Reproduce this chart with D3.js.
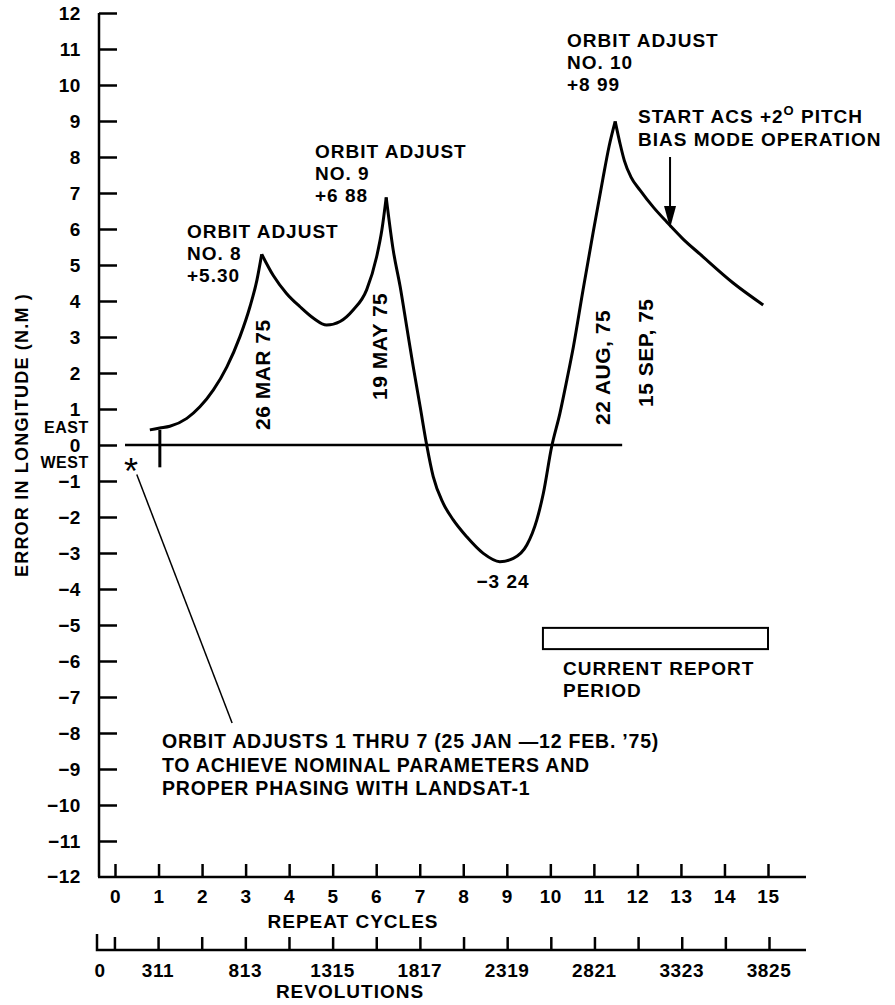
<!DOCTYPE html>
<html>
<head>
    <meta charset="UTF-8">
    <style>
        body { margin: 0; background: #fff; }
        svg { font-family: "Liberation Sans", Arial, sans-serif; font-weight: bold; }
        .axis text { font-size: 19px; letter-spacing: 0.6px; font-family: "Liberation Sans", Arial, sans-serif; font-weight: bold; fill: #000; }
        .axis line { stroke: #000; stroke-width: 2.5px; }
        .tl { font-size: 19px; letter-spacing: 0.6px; fill: #000; }
        .note { font-size: 19px; letter-spacing: 1px; fill: #000; }
        .date { font-size: 21px; letter-spacing: 0.5px; fill: #000; }
    </style>
</head>
<body>
    <script src="https://cdn.jsdelivr.net/npm/d3@7"></script>
    <script>
        // error in longitude (n.mi) against repeat cycles
        var curveCycles = [0.80, 1.03, 1.26, 1.65, 1.95, 2.26, 2.57, 2.87, 3.10, 3.26, 3.37,
            3.64, 3.94, 4.25, 4.56, 4.86, 5.17, 5.47, 5.78, 6.01, 6.13, 6.23,
            6.39, 6.55, 6.70, 6.85, 7.01, 7.16, 7.31, 7.54, 7.77, 8.08, 8.46, 8.84, 9.15, 9.46, 9.69, 9.84,
            10.03, 10.22, 10.38, 10.53, 10.75, 10.99, 11.20, 11.35, 11.49,
            11.60, 11.70, 11.85, 12.06, 12.37, 12.67, 13.05, 13.44, 14.20, 14.89];
        var curveError = [0.42, 0.47, 0.52, 0.74, 1.06, 1.53, 2.17, 3.01, 3.84, 4.58, 5.30,
            4.70, 4.21, 3.84, 3.52, 3.33, 3.43, 3.75, 4.31, 5.23, 5.97, 6.88,
            5.42, 4.40, 3.29, 2.18, 1.06, 0.00, -0.88, -1.62, -2.08, -2.55, -3.01, -3.24, -3.15, -2.78, -2.08, -1.34,
            -0.05, 0.88, 1.81, 2.73, 4.30, 5.95, 7.35, 8.30, 8.99,
            8.38, 7.90, 7.45, 7.08, 6.60, 6.20, 5.72, 5.30, 4.50, 3.89];

        var adjustCycles = [3.37, 6.23, 11.49];
        var adjustError = [5.30, 6.88, 8.99];
        var adjustNames = ["NO. 8", "NO. 9", "NO. 10"];
        var adjustLabels = ["+5.30", "+6 88", "+8 99"];

        var errorTicks = [-12, -11, -10, -9, -8, -7, -6, -5, -4, -3, -2, -1, 0, 1, 2, 3, 4, 5, 6, 7, 8, 9, 10, 11, 12];
        var cycleTicks = [0, 1, 2, 3, 4, 5, 6, 7, 8, 9, 10, 11, 12, 13, 14, 15];
        var revTicks = [60, 311, 562, 813, 1064, 1315, 1566, 1817, 2068, 2319, 2570, 2821, 3072, 3323, 3574, 3825];
        var revLabels = [0, 311, 813, 1315, 1817, 2319, 2821, 3323, 3825];

        var dateLabels = ["26 MAR 75", "19 MAY 75", "22 AUG, 75", "15 SEP, 75"];

        var w = 895, h = 1005;
        var xScale = d3.scaleLinear().domain([0, 15]).range([115, 768]);
        var yScale = d3.scaleLinear().domain([-12, 12]).range([877, 13]);
        var revScale = d3.scaleLinear().domain([0, 3825]).range([104, 769]);

        var svg = d3.select("body").append("svg")
            .attr("width", w).attr("height", h);
        svg.append("rect").attr("width", w).attr("height", h).attr("fill", "#fff");

        var axisX0 = 99, axisX1 = 806;
        var cycY = yScale(-12), revY = 950;

        // y axis
        svg.append("g").attr("class", "axis")
            .attr("transform", `translate(${axisX0},0)`)
            .call(d3.axisLeft(yScale).tickValues(errorTicks.filter(d => d > -12))
                .tickSizeInner(-18).tickSizeOuter(0).tickPadding(18))
            .call(g => g.select(".domain").remove());
        svg.append("text").attr("class", "tl").attr("x", 81).attr("y", yScale(-12)).attr("dy", "0.32em")
            .attr("text-anchor", "end").text("\u221212");
        svg.append("line").attr("x1", axisX0).attr("x2", axisX0)
            .attr("y1", yScale(12)).attr("y2", cycY)
            .attr("stroke", "#000").attr("stroke-width", 2.5);

        // repeat cycles axis
        svg.append("g").attr("class", "axis")
            .attr("transform", `translate(0,${cycY})`)
            .call(d3.axisBottom(xScale).tickValues(cycleTicks)
                .tickSizeInner(-13).tickSizeOuter(0).tickPadding(13))
            .call(g => g.select(".domain").remove())
            .call(g => g.selectAll(".tick line").attr("stroke-width", 1.8));
        svg.append("line").attr("x1", axisX0 - 1).attr("x2", axisX1)
            .attr("y1", cycY).attr("y2", cycY)
            .attr("stroke", "#000").attr("stroke-width", 2.5);

        // revolutions axis
        svg.append("g").attr("class", "axis")
            .attr("transform", `translate(0,${revY})`)
            .call(d3.axisBottom(revScale).tickValues(revTicks)
                .tickSizeInner(-13).tickSizeOuter(0).tickFormat(""))
            .call(g => g.select(".domain").remove())
            .call(g => g.selectAll(".tick line").attr("stroke-width", 1.8));
        svg.append("g").selectAll("text").data(revLabels).enter().append("text")
            .attr("class", "tl")
            .attr("x", d => d === 0 ? 100 : revScale(d))
            .attr("y", revY + 27)
            .attr("text-anchor", "middle")
            .text(d => d);
        svg.append("path")
            .attr("d", `M${axisX0 - 2},${revY - 16}V${revY}H${axisX1}`)
            .attr("fill", "none").attr("stroke", "#000").attr("stroke-width", 2.5);

        svg.append("text").attr("x", 353).attr("y", 928).attr("text-anchor", "middle")
            .attr("class", "note").text("REPEAT CYCLES");
        svg.append("text").attr("x", 350).attr("y", 998).attr("text-anchor", "middle")
            .attr("class", "note").text("REVOLUTIONS");

        // y title and east / west
        svg.append("text")
            .attr("transform", `translate(28,435) rotate(-90)`)
            .attr("text-anchor", "middle")
            .style("font-size", "18px").style("letter-spacing", "1.2px")
            .text("ERROR IN LONGITUDE (N.M )");
        svg.append("text").attr("class", "tl").attr("x", 89).attr("y", 433).attr("text-anchor", "end")
            .style("font-size", "16px").text("EAST");
        svg.append("text").attr("class", "tl").attr("x", 89).attr("y", 468).attr("text-anchor", "end")
            .style("font-size", "16px").text("WEST");

        // zero line and start marker
        svg.append("line")
            .attr("x1", xScale(0.23)).attr("x2", xScale(11.65))
            .attr("y1", yScale(0)).attr("y2", yScale(0))
            .attr("stroke", "#000").attr("stroke-width", 2.5);
        svg.append("line")
            .attr("x1", xScale(1.03)).attr("x2", xScale(1.03))
            .attr("y1", yScale(0.42)).attr("y2", yScale(-0.62))
            .attr("stroke", "#000").attr("stroke-width", 3);

        // curve, split at the orbit adjust cusps
        var pts = curveCycles.map((c, i) => [c, curveError[i]]);
        var cuts = adjustCycles.map(c => curveCycles.indexOf(c));
        var bounds = [0].concat(cuts, [pts.length - 1]);
        var line = d3.line()
            .x(d => xScale(d[0])).y(d => yScale(d[1]))
            .curve(d3.curveMonotoneX);
        for (var i = 0; i < bounds.length - 1; i++) {
            svg.append("path")
                .datum(pts.slice(bounds[i], bounds[i + 1] + 1))
                .attr("d", line)
                .attr("fill", "none").attr("stroke", "#000")
                .attr("stroke-width", 3).attr("stroke-linejoin", "miter");
        }

        // orbit adjust notes
        var notePos = [[187, 238], [315, 158], [567, 47]];
        adjustNames.forEach(function (n, i) {
            var t = svg.append("text").attr("class", "note")
                .attr("x", notePos[i][0]).attr("y", notePos[i][1]);
            ["ORBIT ADJUST", n, adjustLabels[i]].forEach(function (s, j) {
                t.append("tspan").attr("x", notePos[i][0]).attr("dy", j ? 22 : 0).text(s);
            });
        });

        // minimum
        svg.append("text").attr("class", "note").attr("x", 503).attr("y", 588)
            .attr("text-anchor", "middle").text("\u22123 24");

        // dates
        var datePos = [[270, 430], [387, 400], [610, 425], [653, 407]];
        svg.selectAll(".date").data(dateLabels).enter().append("text")
            .attr("class", "date")
            .attr("transform", (d, i) => `translate(${datePos[i][0]},${datePos[i][1]}) rotate(-90)`)
            .text(d => d);

        // pitch bias note and arrow
        var t2 = svg.append("text").attr("class", "note").attr("x", 638).attr("y", 123);
        t2.append("tspan").text("START ACS +2");
        t2.append("tspan").attr("dy", -8).style("font-size", "13px").text("O");
        t2.append("tspan").attr("dy", 8).text(" PITCH");
        svg.append("text").attr("class", "note").attr("x", 638).attr("y", 146)
            .text("BIAS MODE OPERATION");
        var ax = xScale(12.75), ay = yScale(6.03);
        svg.append("line").attr("x1", ax).attr("x2", ax)
            .attr("y1", yScale(8.0)).attr("y2", ay - 12)
            .attr("stroke", "#000").attr("stroke-width", 2);
        svg.append("path")
            .attr("d", `M${ax - 6},${ay - 22}L${ax + 6},${ay - 22}L${ax},${ay}Z`)
            .attr("fill", "#000");

        // current report period
        svg.append("rect")
            .attr("x", xScale(9.83)).attr("y", yScale(-5.08))
            .attr("width", xScale(15) - xScale(9.83))
            .attr("height", yScale(-5.67) - yScale(-5.08))
            .attr("fill", "none").attr("stroke", "#000").attr("stroke-width", 2);
        var t3 = svg.append("text").attr("class", "note").attr("x", 563).attr("y", 675);
        t3.append("tspan").attr("x", 563).text("CURRENT REPORT");
        t3.append("tspan").attr("x", 563).attr("dy", 22).text("PERIOD");

        // early adjusts
        svg.append("text").attr("x", 131).attr("y", 484)
            .attr("text-anchor", "middle").style("font-size", "36px").style("font-weight", "normal")
            .text("*");
        svg.append("line")
            .attr("x1", xScale(0.5)).attr("y1", yScale(-0.82))
            .attr("x2", xScale(2.69)).attr("y2", yScale(-7.72))
            .attr("stroke", "#000").attr("stroke-width", 1.5);
        var t4 = svg.append("text").attr("class", "note").attr("x", 162).attr("y", 748)
            .style("font-size", "19.5px").style("letter-spacing", "0.8px");
        ["ORBIT ADJUSTS 1 THRU 7 (25 JAN \u201412 FEB. \u201975)",
         "TO ACHIEVE NOMINAL PARAMETERS AND",
         "PROPER PHASING WITH LANDSAT-1"].forEach(function (s, j) {
            t4.append("tspan").attr("x", 162).attr("dy", j ? 23.5 : 0).text(s);
        });
    </script>
</body>
</html>
